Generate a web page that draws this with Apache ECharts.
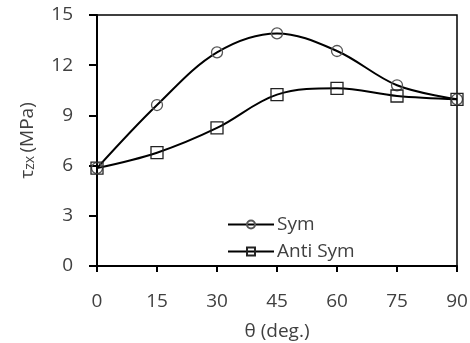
<!DOCTYPE html>
<html>
<head>
<meta charset="utf-8">
<script src="https://cdn.jsdelivr.net/npm/echarts@6/dist/echarts.min.js"></script>
<style>
  html, body { margin: 0; padding: 0; background: #fff; }
  #chart { width: 470px; height: 343px; }
</style>
</head>
<body>
<div id="chart"></div>
<script>
const angles = [0, 15, 30, 45, 60, 75, 90];
const symValues = [5.85, 9.62, 12.77, 13.9, 12.85, 10.8, 9.96];
const antiSymValues = [5.85, 6.77, 8.25, 10.24, 10.62, 10.16, 9.96];
const yTicks = [0, 3, 6, 9, 12, 15];

const textColor = "#404040";
const fontFamily = "Open Sans, Liberation Sans, sans-serif";
const fontSize = 19;

function pairs(values) {
  return angles.map((a, i) => [a, values[i]]);
}

const chart = echarts.init(document.getElementById("chart"), null, { renderer: "canvas" });

chart.setOption({
  animation: false,
  grid: {
    left: 97, right: 13, top: 15, bottom: 77,
    outerBoundsMode: "none",
    containLabel: false,
    show: true, borderColor: "#000", borderWidth: 1.5,
  },
  legend: {
    orient: "vertical",
    left: 222, top: 210,
    itemWidth: 46, itemHeight: 10, itemGap: 8,
    textStyle: { color: textColor, fontSize, fontFamily, padding: [0, 0, 0, -2] },
    data: ["Sym", "Anti Sym"],
  },
  xAxis: {
    type: "value",
    min: 0, max: 90, interval: 15,
    name: "θ (deg.)",
    nameLocation: "middle",
    nameGap: 56,
    nameTextStyle: { color: textColor, fontSize, fontFamily },
    axisLine: { lineStyle: { color: "#000", width: 2 } },
    axisTick: { show: true, inside: false, length: 6, lineStyle: { color: "#000", width: 2 } },
    axisLabel: { color: textColor, fontSize, fontFamily, margin: 26 },
    splitLine: { show: false },
  },
  yAxis: {
    type: "value",
    min: yTicks[0], max: yTicks[yTicks.length - 1], interval: 3,
    name: "{t|τ}{s|zx} {t|(MPa)}",
    nameLocation: "middle",
    nameGap: 60,
    nameTextStyle: {
      rich: {
        t: { color: textColor, fontSize, fontFamily },
        s: { color: textColor, fontSize: 14, fontFamily, verticalAlign: "bottom", padding: [5, 0, 0, 0] },
      },
    },
    axisLine: { show: true, lineStyle: { color: "#000", width: 2 } },
    axisTick: { show: true, inside: false, length: 8, lineStyle: { color: "#000", width: 2 } },
    axisLabel: { color: textColor, fontSize, fontFamily, margin: 24 },
    splitLine: { show: false },
  },
  series: [
    {
      name: "Sym",
      type: "line",
      data: pairs(symValues),
      smooth: 0.35,
      symbol: "circle",
      symbolSize: 11,
      lineStyle: { color: "#000", width: 2 },
      itemStyle: { color: "rgba(255,255,255,0)", borderColor: "#555", borderWidth: 1.3 },
    },
    {
      name: "Anti Sym",
      type: "line",
      data: pairs(antiSymValues),
      smooth: 0.35,
      symbol: "rect",
      symbolSize: 12,
      lineStyle: { color: "#000", width: 2 },
      itemStyle: { color: "rgba(255,255,255,0)", borderColor: "#222", borderWidth: 1.3 },
    },
  ],
});
</script>
</body>
</html>
